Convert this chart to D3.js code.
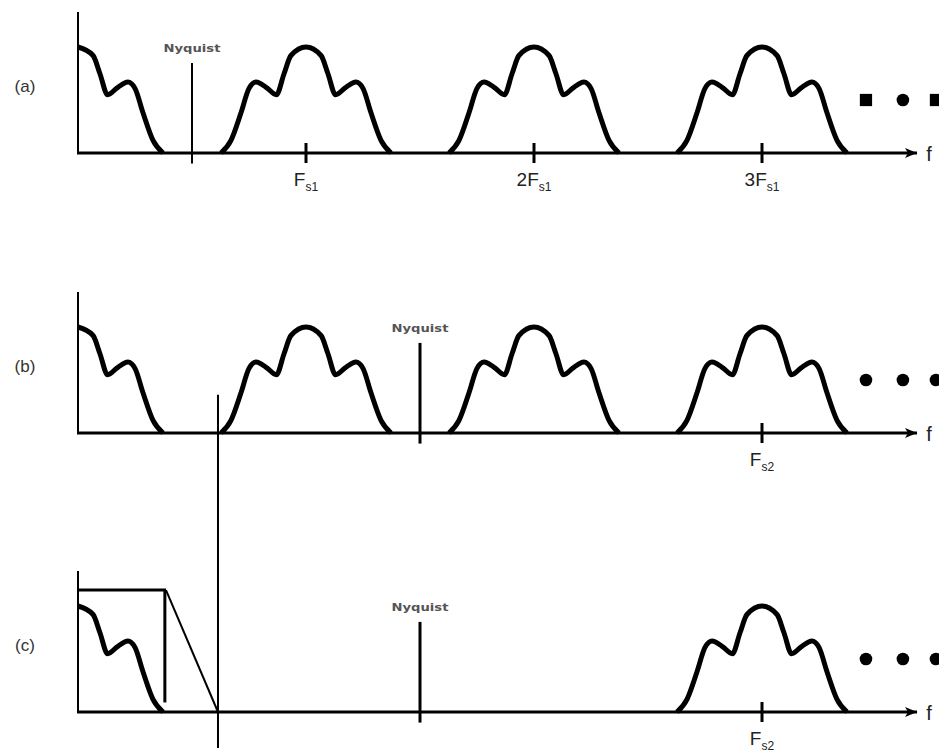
<!DOCTYPE html>
<html>
<head>
<meta charset="utf-8">
<script src="https://cdn.jsdelivr.net/npm/d3@7"></script>
<style>
  body { margin: 0; background: #fff; }
  svg { display: block; }
</style>
</head>
<body>
<script>
// spectral shape of one image (frequency offset in units of Fs1, level relative to peak)
var shapeOffsets = [0, 0.066, 0.096, 0.13, 0.175, 0.219, 0.25, 0.285, 0.329, 0.373];
var shapeLevels  = [1, 0.92, 0.75, 0.55, 0.62, 0.67, 0.61, 0.38, 0.12, 0];

var panelNames = ["(a)", "(b)", "(c)"];
var imageCenters = [[0, 1, 2, 3], [0, 1, 2, 3], [0, 3]];
var nyquistFreqs = [0.5, 1.5, 1.5];
var tickFreqs = [[1, 2, 3], [3], [3]];
var tickPrefix = [["", "2", "3"], [""], [""]];
var tickSub = [["s1", "s1", "s1"], ["s2"], ["s2"]];
var dotFreqs = [3.456, 3.618, 3.763];
var dotShapes = [["square", "circle", "square"], ["circle", "circle", "circle"], ["circle", "circle", "circle"]];

// anti-alias filter in (c): passband edge, stopband edge, gain
var passEdge = 0.386;
var stopEdge = 0.614;
var filterGain = 1.15;

const WIDTH = 939;
const HEIGHT = 753;
const BASELINES = [153, 433, 712];
const PEAK = 106;

var x = d3.scaleLinear().domain([0, 1]).range([78, 306]);
var yScales = BASELINES.map(b => d3.scaleLinear().domain([0, 1]).range([b, b - PEAK]));

var svg = d3.select("body").append("svg")
    .attr("width", WIDTH)
    .attr("height", HEIGHT);

svg.append("defs").append("marker")
    .attr("id", "arrow")
    .attr("viewBox", "0 0 12 10")
    .attr("refX", 12).attr("refY", 5)
    .attr("markerWidth", 12).attr("markerHeight", 10)
    .attr("markerUnits", "userSpaceOnUse")
    .attr("orient", "auto")
    .append("path")
    .attr("d", "M0,0 L12,5 L0,10 L3,5 Z")
    .attr("fill", "#000");

// full image shape, mirrored around its centre
var shape = [];
for (var i = shapeOffsets.length - 1; i > 0; i--) shape.push([-shapeOffsets[i], shapeLevels[i]]);
for (var j = 0; j < shapeOffsets.length; j++) shape.push([shapeOffsets[j], shapeLevels[j]]);

panelNames.forEach(function(name, p) {
    var y = yScales[p];
    var g = svg.append("g");

    // panel label
    g.append("text")
        .attr("x", 25).attr("y", y(0.62))
        .attr("text-anchor", "middle")
        .attr("dominant-baseline", "middle")
        .attr("font-family", "Liberation Sans, Arial, sans-serif")
        .attr("font-size", 17)
        .attr("fill", "#333")
        .text(name);

    // y axis
    g.append("line")
        .attr("x1", x(0)).attr("x2", x(0))
        .attr("y1", y(0)).attr("y2", y(1.33))
        .attr("stroke", "#000").attr("stroke-width", 2);

    // frequency axis with arrow
    g.append("line")
        .attr("x1", x(0) - 1).attr("x2", x(3.68))
        .attr("y1", y(0)).attr("y2", y(0))
        .attr("stroke", "#000").attr("stroke-width", 3)
        .attr("marker-end", "url(#arrow)");

    g.append("text")
        .attr("x", x(3.68) + 12).attr("y", y(0) + 8)
        .attr("text-anchor", "middle")
        .attr("font-family", "Liberation Sans Narrow, Liberation Sans, sans-serif")
        .attr("font-size", 20)
        .attr("fill", "#222")
        .text("f");

    // spectral images
    var line = d3.line()
        .x(d => x(d[0]))
        .y(d => y(d[1]))
        .curve(d3.curveMonotoneX);

    imageCenters[p].forEach(function(c) {
        var pts = shape.map(d => [c + d[0], d[1]]).filter(d => d[0] >= 0);
        g.append("path")
            .attr("d", line(pts))
            .attr("fill", "none")
            .attr("stroke", "#000")
            .attr("stroke-width", 5)
            .attr("stroke-linejoin", "round");
    });

    // sample-rate ticks
    tickFreqs[p].forEach(function(f, k) {
        g.append("line")
            .attr("x1", x(f)).attr("x2", x(f))
            .attr("y1", y(0) - 10).attr("y2", y(0) + 10)
            .attr("stroke", "#000").attr("stroke-width", 3);
        var t = g.append("text")
            .attr("x", x(f)).attr("y", y(0) + 33)
            .attr("text-anchor", "middle")
            .attr("font-family", "Liberation Sans Narrow, Liberation Sans, sans-serif")
            .attr("font-size", 19)
            .attr("fill", "#222");
        t.append("tspan").text(tickPrefix[p][k] + "F");
        t.append("tspan").attr("font-size", 12).attr("dy", 5).text(tickSub[p][k]);
    });

    // Nyquist marker
    var nq = nyquistFreqs[p];
    g.append("line")
        .attr("x1", x(nq)).attr("x2", x(nq))
        .attr("y1", y(-0.1)).attr("y2", y(0.85))
        .attr("stroke", "#000").attr("stroke-width", p === 0 ? 2 : 3);
    g.append("text")
        .attr("x", x(nq)).attr("y", y(0.95))
        .attr("text-anchor", "middle")
        .attr("font-family", "DejaVu Sans Condensed, DejaVu Sans, sans-serif")
        .attr("font-weight", "bold")
        .attr("font-size", 11)
        .attr("textLength", 57)
        .attr("lengthAdjust", "spacingAndGlyphs")
        .attr("fill", "#555")
        .text("Nyquist");

    // continuation dots
    dotFreqs.forEach(function(f, k) {
        var sym = dotShapes[p][k] === "square" ? d3.symbolSquare : d3.symbolCircle;
        g.append("path")
            .attr("transform", `translate(${x(f)},${y(0.5)})`)
            .attr("d", d3.symbol().type(sym).size(dotShapes[p][k] === "square" ? 150 : 125)())
            .attr("fill", "#000");
    });
});

// filter response in (c)
var yc = yScales[2];
var filterLine = d3.line().x(d => x(d[0])).y(d => yc(d[1]));
svg.append("path")
    .attr("d", filterLine([[0, filterGain], [passEdge, filterGain]]))
    .attr("stroke", "#000").attr("stroke-width", 3).attr("fill", "none");
svg.append("path")
    .attr("d", filterLine([[passEdge - 0.005, filterGain], [passEdge - 0.005, 0.09]]))
    .attr("stroke", "#000").attr("stroke-width", 3).attr("fill", "none");
svg.append("path")
    .attr("d", filterLine([[passEdge, filterGain], [stopEdge, 0]]))
    .attr("stroke", "#000").attr("stroke-width", 2).attr("fill", "none");

// stopband edge running through (b) and (c)
svg.append("line")
    .attr("x1", x(stopEdge)).attr("x2", x(stopEdge))
    .attr("y1", yScales[1](0.36)).attr("y2", yc(-0.34))
    .attr("stroke", "#000").attr("stroke-width", 2);
</script>
</body>
</html>
